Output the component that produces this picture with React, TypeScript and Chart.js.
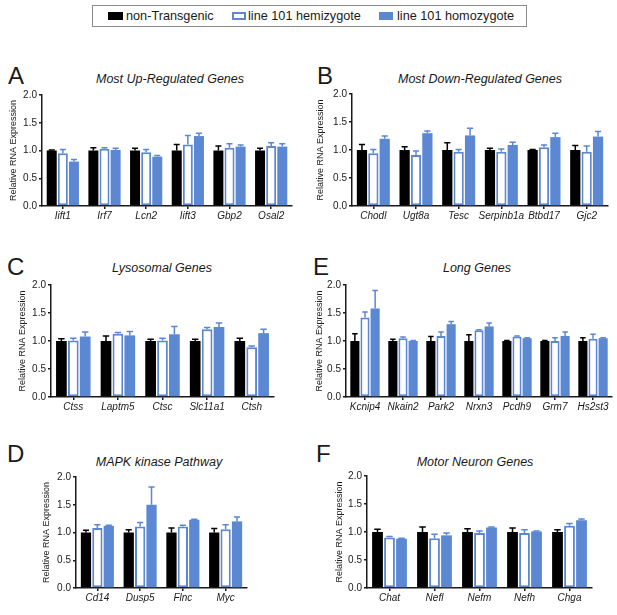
import React, { useEffect, useRef } from "react";
import Chart from "chart.js/auto";

const FONT = '"Liberation Sans", Arial, Helvetica, sans-serif';
const INK = "#1a1a1a";
const BLUE = "#5b87d3";

// A - most up-regulated
const upGenes = ["Iift1", "Irf7", "Lcn2", "Iift3", "Gbp2", "Osal2"];
const upNt = [1, 1, 1, 1, 1, 1];
const upNtErr = [0.01, 0.05, 0.04, 0.11, 0.08, 0.04];
const upHemi = [0.95, 1.03, 0.97, 1.11, 1.05, 1.08];
const upHemiErr = [0.07, 0.02, 0.05, 0.16, 0.07, 0.06];
const upHomo = [0.8, 1.01, 0.89, 1.26, 1.07, 1.07];
const upHomoErr = [0.04, 0.03, 0.02, 0.05, 0.03, 0.05];

// B - most down-regulated
const downGenes = ["Chodl", "Ugt8a", "Tesc", "Serpinb1a", "Btbd17", "Gjc2"];
const downNt = [1, 1, 1, 1, 1, 1];
const downNtErr = [0.1, 0.06, 0.13, 0.03, 0.01, 0.08];
const downHemi = [0.94, 0.91, 0.97, 0.97, 1.05, 0.97];
const downHemiErr = [0.07, 0.07, 0.04, 0.05, 0.04, 0.1];
const downHomo = [1.2, 1.3, 1.26, 1.09, 1.23, 1.24];
const downHomoErr = [0.05, 0.04, 0.13, 0.05, 0.07, 0.09];

// C - lysosomal
const lysoGenes = ["Ctss", "Laptm5", "Ctsc", "Slc11a1", "Ctsh"];
const lysoNt = [1, 1, 1, 1, 1];
const lysoNtErr = [0.04, 0.09, 0.03, 0.03, 0.05];
const lysoHemi = [1.01, 1.13, 1.01, 1.21, 0.89];
const lysoHemiErr = [0.04, 0.02, 0.04, 0.03, 0.02];
const lysoHomo = [1.08, 1.1, 1.12, 1.25, 1.14];
const lysoHomoErr = [0.08, 0.07, 0.14, 0.07, 0.07];

// E - long genes
const longGenes = ["Kcnip4", "Nkain2", "Park2", "Nrxn3", "Pcdh9", "Grm7", "Hs2st3"];
const longNt = [1, 1, 1, 1, 1, 1, 1];
const longNtErr = [0.13, 0.03, 0.08, 0.11, 0.01, 0.01, 0.06];
const longHemi = [1.42, 1.05, 1.09, 1.19, 1.08, 1.0, 1.04];
const longHemiErr = [0.1, 0.02, 0.07, 0.01, 0.01, 0.06, 0.08];
const longHomo = [1.58, 1.0, 1.3, 1.26, 1.05, 1.09, 1.05];
const longHomoErr = [0.32, 0.01, 0.05, 0.06, 0.01, 0.07, 0.01];

// D - MAPK kinase pathway
const mapkGenes = ["Cd14", "Dusp5", "Flnc", "Myc"];
const mapkNt = [1, 1, 1, 1];
const mapkNtErr = [0.04, 0.05, 0.08, 0.07];
const mapkHemi = [1.08, 1.11, 1.11, 1.06];
const mapkHemiErr = [0.06, 0.07, 0.02, 0.08];
const mapkHomo = [1.12, 1.5, 1.23, 1.2];
const mapkHomoErr = [0.01, 0.32, 0.01, 0.08];

// F - motor neuron
const motorGenes = ["Chat", "Nefl", "Nefm", "Nefh", "Chga"];
const motorNt = [1, 1, 1, 1, 1];
const motorNtErr = [0.05, 0.09, 0.06, 0.07, 0.04];
const motorHemi = [0.9, 0.89, 0.98, 0.98, 1.11];
const motorHemiErr = [0.02, 0.07, 0.04, 0.06, 0.04];
const motorHomo = [0.88, 0.94, 1.08, 1.01, 1.21];
const motorHomoErr = [0.01, 0.04, 0.01, 0.01, 0.02];

const yTicks = [0, 0.5, 1, 1.5, 2];

const Y_W = 40; // y scale box width
const X_H = 22; // x scale box height
const PAD_T = 8;
const PAD_R = 4;

// draws the upward SEM bars with caps
const errorBars = {
  id: "errorBars",
  afterDatasetsDraw(chart: any) {
    const { ctx } = chart;
    const y = chart.scales.y;
    chart.data.datasets.forEach((ds: any, i: number) => {
      const meta = chart.getDatasetMeta(i);
      meta.data.forEach((bar: any, j: number) => {
        const v = ds.data[j];
        const yBase = y.getPixelForValue(v);
        const yTop = y.getPixelForValue(v + ds.errors[j]);
        const half = bar.width * 0.3;
        ctx.save();
        ctx.strokeStyle = ds.errorColor;
        ctx.lineWidth = 1.5;
        ctx.beginPath();
        ctx.moveTo(bar.x, yBase);
        ctx.lineTo(bar.x, yTop);
        ctx.moveTo(bar.x - half, yTop);
        ctx.lineTo(bar.x + half, yTop);
        ctx.stroke();
        ctx.restore();
      });
    });
  }
};

type PanelProps = {
  labels: string[];
  nt: number[];
  ntErr: number[];
  hemi: number[];
  hemiErr: number[];
  homo: number[];
  homoErr: number[];
  left: number;
  top: number;
  right: number;
  bottom: number;
  titleGap?: number;
};

const Panel: React.FC<PanelProps> = (p) => {
  const chartRef = useRef<HTMLCanvasElement>(null);
  const w = Y_W + (p.right - p.left) + PAD_R;
  const h = PAD_T + (p.bottom - p.top) + X_H;

  useEffect(() => {
    if (!chartRef.current) return;
    const gap = p.titleGap ?? 28;
    const chart = new Chart(chartRef.current, {
      type: "bar",
      data: {
        labels: p.labels,
        datasets: [
          {
            label: "non-Transgenic",
            data: p.nt,
            errors: p.ntErr,
            errorColor: "#000",
            backgroundColor: "#000",
            borderWidth: 0
          },
          {
            label: "line 101 hemizygote",
            data: p.hemi,
            errors: p.hemiErr,
            errorColor: BLUE,
            backgroundColor: "#fff",
            borderColor: BLUE,
            borderWidth: 2,
            borderSkipped: false
          },
          {
            label: "line 101 homozygote",
            data: p.homo,
            errors: p.homoErr,
            errorColor: BLUE,
            backgroundColor: BLUE,
            borderWidth: 0
          }
        ] as any
      },
      options: {
        responsive: false,
        animation: false,
        layout: { padding: { top: PAD_T, right: PAD_R, left: 0, bottom: 0 } },
        datasets: { bar: { barPercentage: 0.9, categoryPercentage: 0.8 } },
        plugins: { legend: { display: false }, tooltip: { enabled: false } },
        scales: {
          x: {
            offset: true,
            afterFit: (s: any) => {
              s.height = X_H;
            },
            ticks: {
              font: { family: FONT, size: 10, style: "italic" },
              color: INK,
              padding: 1,
              maxRotation: 0,
              autoSkip: false
            },
            grid: {
              display: true,
              offset: false,
              drawOnChartArea: false,
              drawTicks: true,
              tickLength: 3,
              color: INK,
              lineWidth: 1.5
            },
            border: { display: true, color: INK, width: 1.5 }
          },
          y: {
            min: 0,
            max: 2,
            afterFit: (s: any) => {
              s.width = Y_W;
            },
            afterBuildTicks: (s: any) => {
              s.ticks = yTicks.map((v) => ({ value: v }));
            },
            ticks: {
              callback: (v: any) => Number(v).toFixed(1),
              font: { family: FONT, size: 10 },
              color: INK,
              padding: 2
            },
            grid: {
              display: true,
              drawOnChartArea: false,
              drawTicks: true,
              tickLength: 3,
              color: INK,
              lineWidth: 1.5
            },
            border: { display: true, color: INK, width: 1.5 },
            title: {
              display: true,
              text: "Relative RNA Expression",
              font: { family: FONT, size: 9 },
              color: INK,
              padding: { top: Y_W - gap - 5.4, bottom: 0 }
            }
          }
        }
      } as any,
      plugins: [errorBars]
    });
    return () => chart.destroy();
  }, []);

  return (
    <canvas
      ref={chartRef}
      width={w}
      height={h}
      style={{ position: "absolute", left: p.left - Y_W, top: p.top - PAD_T, width: w, height: h }}
    />
  );
};

const text = (s: string, x: number, top: number, size: number, extra: React.CSSProperties = {}) => (
  <div
    style={{
      position: "absolute",
      left: x,
      top,
      fontFamily: FONT,
      fontSize: size,
      lineHeight: 1,
      color: INK,
      whiteSpace: "nowrap",
      ...extra
    }}
  >
    {s}
  </div>
);

const title = (s: string, cx: number, baseline: number) =>
  text(s, cx, baseline - 10.6, 12.5, { fontStyle: "italic", transform: "translateX(-50%)" });

const letter = (s: string, x: number, baseline: number) => text(s, x, baseline - 20.3, 24);

export default function App() {
  return (
    <div
      style={{
        position: "absolute",
        left: 0,
        top: 0,
        width: 617,
        height: 615,
        background: "#fff",
        overflow: "hidden"
      }}
    >
      {/* legend */}
      <div
        style={{
          position: "absolute",
          left: 92,
          top: 5,
          width: 435,
          height: 22,
          border: "1.5px solid #8c8c8c",
          boxSizing: "border-box"
        }}
      />
      <div style={{ position: "absolute", left: 108, top: 12, width: 15, height: 8, background: "#000" }} />
      {text("non-Transgenic", 126, 10.4, 12.7)}
      <div
        style={{
          position: "absolute",
          left: 232,
          top: 12,
          width: 14,
          height: 8,
          border: `2px solid ${BLUE}`,
          boxSizing: "border-box",
          background: "#fff"
        }}
      />
      {text("line 101 hemizygote", 248, 10.4, 12.7)}
      <div style={{ position: "absolute", left: 379, top: 12, width: 14, height: 8, background: BLUE }} />
      {text("line 101 homozygote", 397, 10.4, 12.7)}

      {letter("A", 8, 84)}
      {title("Most Up-Regulated Genes", 170, 84)}
      <Panel labels={upGenes} nt={upNt} ntErr={upNtErr} hemi={upHemi} hemiErr={upHemiErr}
        homo={upHomo} homoErr={upHomoErr} left={42} top={95} right={292} bottom={206} />

      {letter("B", 317, 84)}
      {title("Most Down-Regulated Genes", 480, 84)}
      <Panel labels={downGenes} nt={downNt} ntErr={downNtErr} hemi={downHemi} hemiErr={downHemiErr}
        homo={downHomo} homoErr={downHomoErr} left={352} top={94} right={608} bottom={206} titleGap={31} />

      {letter("C", 7, 275)}
      {title("Lysosomal Genes", 162, 273)}
      <Panel labels={lysoGenes} nt={lysoNt} ntErr={lysoNtErr} hemi={lysoHemi} hemiErr={lysoHemiErr}
        homo={lysoHomo} homoErr={lysoHomoErr} left={51} top={285} right={274} bottom={397} />

      {letter("E", 313, 275)}
      {title("Long Genes", 477, 273)}
      <Panel labels={longGenes} nt={longNt} ntErr={longNtErr} hemi={longHemi} hemiErr={longHemiErr}
        homo={longHomo} homoErr={longHomoErr} left={346} top={285} right={612} bottom={397} titleGap={26} />

      {letter("D", 7, 462)}
      {title("MAPK kinase Pathway", 159, 467)}
      <Panel labels={mapkGenes} nt={mapkNt} ntErr={mapkNtErr} hemi={mapkHemi} hemiErr={mapkHemiErr}
        homo={mapkHomo} homoErr={mapkHomoErr} left={76} top={477} right={247} bottom={588} titleGap={29} />

      {letter("F", 316, 462)}
      {title("Motor Neuron Genes", 475, 467)}
      <Panel labels={motorGenes} nt={motorNt} ntErr={motorNtErr} hemi={motorHemi} hemiErr={motorHemiErr}
        homo={motorHomo} homoErr={motorHomoErr} left={367} top={476} right={592} bottom={588} titleGap={27} />
    </div>
  );
}
